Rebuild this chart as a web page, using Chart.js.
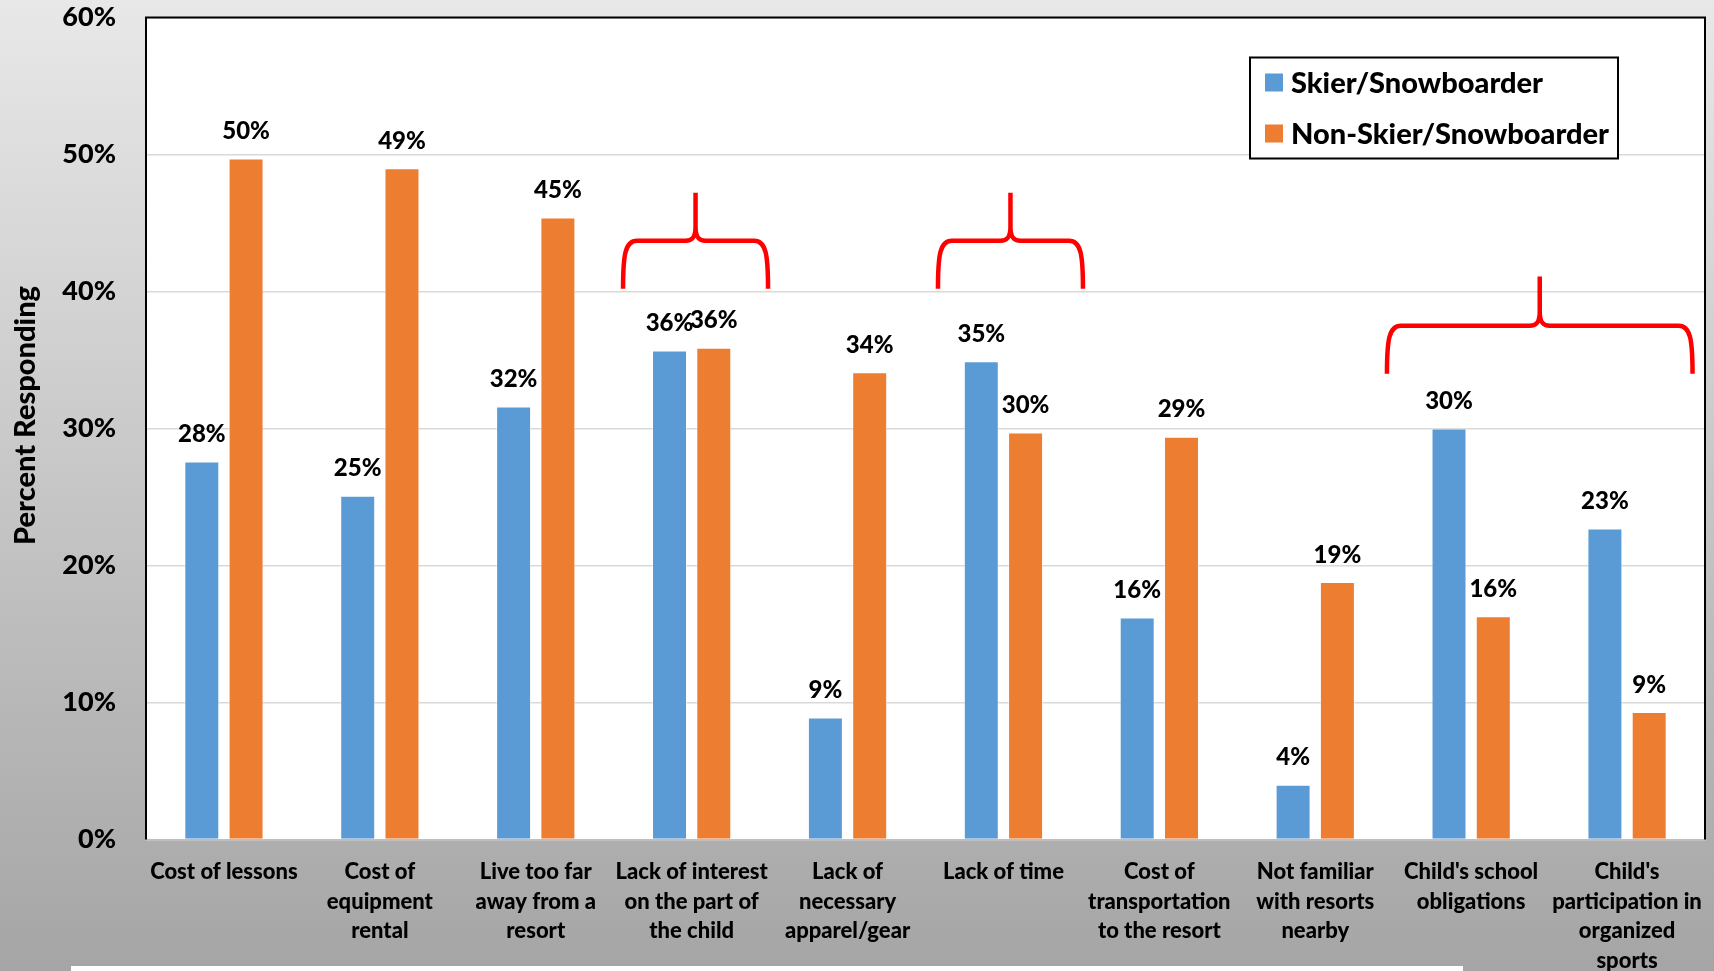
<!DOCTYPE html>
<html>
<head>
<meta charset="utf-8">
<title>Barriers to ski lessons</title>
<script src="https://cdn.jsdelivr.net/npm/chart.js@4/dist/chart.umd.min.js"></script>
<style>
  html, body { margin: 0; padding: 0; background: #c8c8c8; }
  canvas { display: block; }
</style>
</head>
<body>
<canvas id="chart" width="1714" height="971"></canvas>
<script>
// categories (multi-line labels as shown under the axis)
const categories = [
    'Cost of lessons',
    ['Cost of', 'equipment', 'rental'],
    ['Live too far', 'away from a', 'resort'],
    ['Lack of interest', 'on the part of', 'the child'],
    ['Lack of', 'necessary', 'apparel/gear'],
    'Lack of time',
    ['Cost of', 'transportation', 'to the resort'],
    ['Not familiar', 'with resorts', 'nearby'],
    ["Child's school", 'obligations'],
    ["Child's", 'participation in', 'organized', 'sports']
];

// percent responding
const skierValues = [27.6, 25.1, 31.6, 35.7, 8.9, 34.9, 16.2, 4.0, 30.0, 22.7];
const nonSkierValues = [49.7, 49.0, 45.4, 35.9, 34.1, 29.7, 29.4, 18.8, 16.3, 9.3];

const seriesNames = ['Skier/Snowboarder', 'Non-Skier/Snowboarder'];
const yTicks = [0, 10, 20, 30, 40, 50, 60];

// red braces drawn over the chart (category units / percent units)
const braces = [
    { from: 2.56, to: 3.49, bottom: 40.2, mid: 43.7, peak: 47.2 },
    { from: 4.58, to: 5.51, bottom: 40.2, mid: 43.7, peak: 47.2 },
    { from: 7.46, to: 9.42, bottom: 34.0, mid: 37.5, peak: 41.1 }
];

const FONT = 'Lato, "Open Sans", sans-serif';
const WEIGHT = '900';
const BLUE = '#5B9BD5';
const ORANGE = '#ED7D31';

// background gradient + white plot area
const backdrop = {
    id: 'backdrop',
    beforeDraw(chart) {
        const {ctx, width, height, chartArea: a} = chart;
        ctx.save();
        const g = ctx.createLinearGradient(0, 0, 0, height);
        g.addColorStop(0, '#E8E8E8');
        g.addColorStop(1, '#A5A5A5');
        ctx.fillStyle = g;
        ctx.fillRect(0, 0, width, height);
        ctx.fillStyle = '#FFFFFF';
        ctx.fillRect(a.left, a.top, a.right - a.left, a.bottom - a.top);
        // white strip at the very bottom of the slide
        ctx.fillRect(71, 966, 1392, 5);
        ctx.restore();
    }
};

// value labels above each bar
const barLabels = {
    id: 'barLabels',
    afterDatasetsDraw(chart) {
        const {ctx} = chart;
        ctx.save();
        ctx.font = WEIGHT + ' 24px ' + FONT;
        ctx.fillStyle = '#000';
        ctx.textAlign = 'center';
        ctx.textBaseline = 'middle';
        chart.data.datasets.forEach((ds, i) => {
            chart.getDatasetMeta(i).data.forEach((bar, j) => {
                ctx.fillText(Math.round(ds.data[j]) + '%', bar.x, bar.y - 27);
            });
        });
        ctx.restore();
    }
};

// frame, y title, legend box and braces
const extras = {
    id: 'extras',
    afterDraw(chart) {
        const {ctx, chartArea: a, scales: {x, y}} = chart;
        ctx.save();

        // black frame on left / top / right
        ctx.strokeStyle = '#000';
        ctx.lineWidth = 2;
        ctx.beginPath();
        ctx.moveTo(a.left, a.bottom);
        ctx.lineTo(a.left, a.top);
        ctx.lineTo(a.right, a.top);
        ctx.lineTo(a.right, a.bottom);
        ctx.stroke();

        // y axis title
        ctx.save();
        ctx.translate(25.5, 415.5);
        ctx.rotate(-Math.PI / 2);
        ctx.font = WEIGHT + ' 29px ' + FONT;
        ctx.fillStyle = '#000';
        ctx.textAlign = 'center';
        ctx.textBaseline = 'middle';
        ctx.fillText('Percent Responding', 0, 0);
        ctx.restore();

        // legend
        const lx = a.right - 455, ly = a.top + 40, lw = 368, lh = 101;
        ctx.fillStyle = '#fff';
        ctx.fillRect(lx, ly, lw, lh);
        ctx.strokeStyle = '#000';
        ctx.lineWidth = 2;
        ctx.strokeRect(lx, ly, lw, lh);
        ctx.font = WEIGHT + ' 29px ' + FONT;
        ctx.textBaseline = 'middle';
        ctx.textAlign = 'left';
        chart.data.datasets.forEach((ds, i) => {
            const cy = ly + 25 + i * 51;
            ctx.fillStyle = ds.backgroundColor;
            ctx.fillRect(lx + 15, cy - 9, 18, 18);
            ctx.fillStyle = '#000';
            ctx.fillText(ds.label, lx + 41, cy + 1);
        });

        // braces
        ctx.strokeStyle = '#FF0000';
        ctx.lineWidth = 4.5;
        ctx.lineJoin = 'round';
        braces.forEach(b => {
            const x1 = x.getPixelForValue(b.from);
            const x2 = x.getPixelForValue(b.to);
            const xc = (x1 + x2) / 2;
            const yb = y.getPixelForValue(b.bottom);
            const ym = y.getPixelForValue(b.mid);
            const yp = y.getPixelForValue(b.peak);
            const r = 14;
            ctx.beginPath();
            ctx.moveTo(x1, yb);
            ctx.bezierCurveTo(x1, ym + r, x1 + 2, ym, x1 + r, ym);
            ctx.lineTo(xc - 10, ym);
            ctx.bezierCurveTo(xc - 3, ym, xc, ym - 4, xc, ym - 14);
            ctx.lineTo(xc, yp);
            ctx.moveTo(xc, ym - 14);
            ctx.bezierCurveTo(xc, ym - 4, xc + 3, ym, xc + 10, ym);
            ctx.lineTo(x2 - r, ym);
            ctx.bezierCurveTo(x2 - 2, ym, x2, ym + r, x2, yb);
            ctx.stroke();
        });

        ctx.restore();
    }
};

new Chart(document.getElementById('chart'), {
    type: 'bar',
    data: {
        labels: categories,
        datasets: [
            { label: seriesNames[0], data: skierValues, backgroundColor: BLUE,
              borderColor: 'rgba(255,255,255,0.45)', borderWidth: 1 },
            { label: seriesNames[1], data: nonSkierValues, backgroundColor: ORANGE,
              borderColor: 'rgba(255,255,255,0.45)', borderWidth: 1 }
        ]
    },
    options: {
        responsive: false,
        animation: false,
        layout: { padding: { top: 17.5, right: 9, left: 0, bottom: 0 } },
        datasets: { bar: { barPercentage: 0.79, categoryPercentage: 0.568 } },
        plugins: { legend: { display: false }, tooltip: { enabled: false } },
        scales: {
            x: {
                grid: { display: false },
                border: { color: '#BFBFBF', width: 2 },
                ticks: {
                    color: '#000',
                    font: { family: FONT, weight: WEIGHT, size: 22, lineHeight: 1.34 },
                    padding: 10,
                    maxRotation: 0,
                    autoSkip: false
                },
                afterFit(axis) { axis.height = 131.5; }
            },
            y: {
                min: 0,
                max: 60,
                afterBuildTicks(axis) { axis.ticks = yTicks.map(v => ({ value: v })); },
                grid: { color: '#D9D9D9', lineWidth: 1.5, drawTicks: true,
                        tickLength: 30, tickColor: 'rgba(0,0,0,0)' },
                border: { display: false },
                ticks: {
                    color: '#000',
                    font: { family: FONT, weight: WEIGHT, size: 27 },
                    padding: 0,
                    callback: v => v + '%'
                },
                afterFit(axis) { axis.width = 146; }
            }
        }
    },
    plugins: [backdrop, barLabels, extras]
});
</script>
</body>
</html>
